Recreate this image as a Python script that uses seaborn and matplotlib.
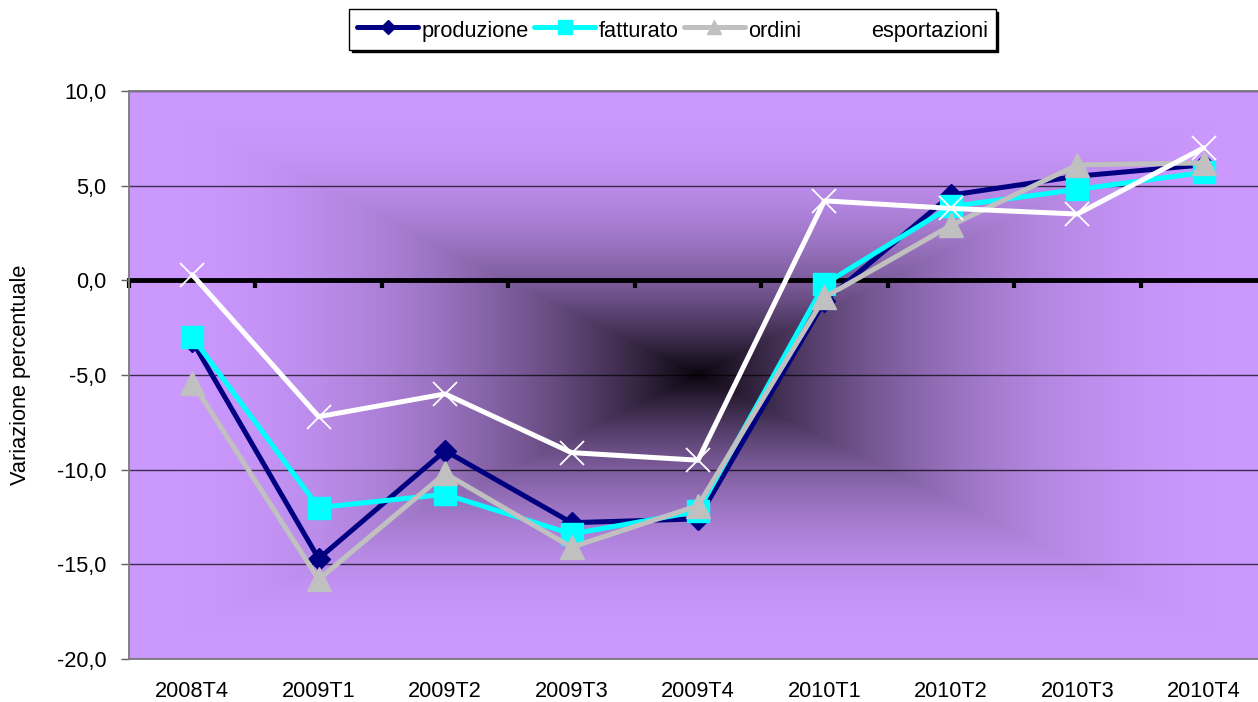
import numpy as np
import seaborn as sns
import matplotlib.pyplot as plt
from matplotlib.ticker import FuncFormatter

# data
quarters = ['2008T4', '2009T1', '2009T2', '2009T3', '2009T4',
            '2010T1', '2010T2', '2010T3', '2010T4']
produzione = [-3.2, -14.7, -9.0, -12.8, -12.6, -1.1, 4.5, 5.5, 6.1]
fatturato = [-3.0, -12.0, -11.3, -13.4, -12.2, -0.2, 3.9, 4.8, 5.7]
ordini = [-5.4, -15.8, -10.2, -14.1, -11.9, -0.9, 2.9, 6.1, 6.2]
esportazioni = [0.3, -7.2, -6.0, -9.1, -9.5, 4.2, 3.8, 3.5, 7.0]

sns.set_style('white')
plt.rcParams['font.family'] = ['Liberation Sans', 'DejaVu Sans']
plt.rcParams['text.color'] = 'black'
plt.rcParams['axes.labelcolor'] = 'black'
plt.rcParams['xtick.color'] = 'black'
plt.rcParams['ytick.color'] = 'black'
fs = 15.7

fig = plt.figure(figsize=(12.58, 7.02), dpi=100)
pos = [129 / 1258, 43 / 702, 1138 / 1258, 568 / 702]

# plot area fill: rectangular gradient from the centre (dark) to lavender
bg = fig.add_axes(pos, zorder=0)
yy, xx = np.mgrid[-1:1:400j, -1:1:800j]
t = np.maximum(np.abs(xx), np.abs(yy))
f = 1 - (1 - t) ** 2.2
dark = np.array([0.04, 0.02, 0.05])
light = np.array([0.80, 0.60, 1.0])
img = dark + f[..., None] * (light - dark)
bg.imshow(img, aspect='auto', extent=(0, 1, 0, 1), interpolation='bilinear')
bg.axis('off')

ax = fig.add_axes(pos, zorder=1)
ax.patch.set_alpha(0)

x = np.arange(len(quarters))
series = [
    ('produzione', produzione, '#000080', 'D', 11.5, 1),
    ('fatturato', fatturato, '#00FFFF', 's', 16.5, 1),
    ('ordini', ordini, '#C0C0C0', '^', 17.5, 1),
    ('esportazioni', esportazioni, '#FFFFFF', 'x', 17.5, 1.3),
]
for name, vals, col, mk, ms, mew in series:
    sns.lineplot(x=x, y=vals, ax=ax, color=col, marker=mk, markersize=ms,
                 mfc=col, mec=col, mew=mew, lw=3.6, label=name)

handles, labels = ax.get_legend_handles_labels()
ax.get_legend().remove()

ax.set_xlim(-0.5, 8.5)
ax.set_ylim(-20, 10)
ax.set_yticks(np.arange(-20, 11, 5))
ax.yaxis.set_major_formatter(FuncFormatter(lambda v, p: f'{v:.1f}'.replace('.', ',')))
ax.set_xticks(x, quarters)
ax.tick_params(axis='x', length=0, pad=16, labelsize=fs, labelcolor='black')
ax.tick_params(axis='y', left=True, length=6, width=1, color='#606060',
               direction='out', pad=10, labelsize=fs, labelcolor='black')
ax.grid(axis='y', color='black', lw=1, alpha=0.7)
ax.grid(axis='x', visible=False)
ax.set_axisbelow(True)

for side in ['top', 'bottom', 'left']:
    ax.spines[side].set_color('#7a7a7a')
    ax.spines[side].set_linewidth(1.3)
ax.spines['right'].set_visible(False)

ax.set_xlabel('')
ax.set_ylabel('Variazione percentuale', fontsize=fs, color='black')
ax.yaxis.set_label_coords(-0.086, 0.5)

# category axis crossing at zero
sec = ax.secondary_xaxis(2 / 3)
sec.set_xticks(np.arange(-0.5, 8.6, 1))
sec.tick_params(axis='x', direction='in', length=6, width=3, color='black',
                labeltop=False, labelbottom=False)
for sp in sec.spines.values():
    sp.set_color('black')
    sp.set_linewidth(3.5)

leg = fig.legend(handles, labels, loc='upper center', bbox_to_anchor=(0.5346, 0.987),
                 borderaxespad=0, ncol=4, frameon=True, fancybox=False, framealpha=1,
                 shadow={'color': 'black', 'alpha': 1}, edgecolor='black',
                 fontsize=fs, handlelength=2.8, handletextpad=0.15,
                 columnspacing=0.25, borderpad=0.35, handleheight=1.4,
                 markerscale=0.6)
leg.get_frame().set_linewidth(1.0)

fig.savefig('out.png', dpi=100)
